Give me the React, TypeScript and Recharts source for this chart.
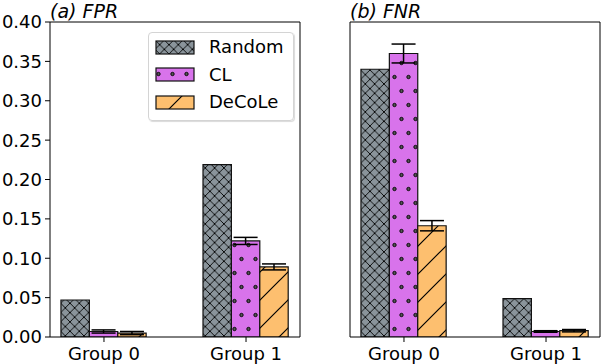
import React from "react";
import {
  BarChart,
  Bar,
  XAxis,
  YAxis,
  ErrorBar,
  ReferenceLine,
} from "recharts";

// group positions on the x axis (0 = Group 0, 1 = Group 1)
const groups = [0, 1];
const yTicks = [0, 0.05, 0.1, 0.15, 0.2, 0.25, 0.3, 0.35, 0.4];

// (a) FPR
const fprRandom = [0.047, 0.219];
const fprCL = [0.007, 0.122];
const fprCLErr = [0.002, 0.0045];
const fprDeCoLe = [0.005, 0.089];
const fprDeCoLeErr = [0.002, 0.0038];

// (b) FNR
const fnrRandom = [0.34, 0.0487];
const fnrCL = [0.36, 0.007];
const fnrCLErr = [0.012, 0.001];
const fnrDeCoLe = [0.1413, 0.008];
const fnrDeCoLeErr = [0.0065, 0.0015];

const series = [
  { key: "random", name: "Random", fill: "url(#hatchRandom)" },
  { key: "cl", name: "CL", fill: "url(#hatchCL)" },
  { key: "decole", name: "DeCoLe", fill: "url(#hatchDeCoLe)" },
];

const fprData = groups.map((g, i) => ({
  x: g,
  random: fprRandom[i],
  cl: fprCL[i],
  clErr: fprCLErr[i],
  decole: fprDeCoLe[i],
  decoleErr: fprDeCoLeErr[i],
}));

const fnrData = groups.map((g, i) => ({
  x: g,
  random: fnrRandom[i],
  cl: fnrCL[i],
  clErr: fnrCLErr[i],
  decole: fnrDeCoLe[i],
  decoleErr: fnrDeCoLeErr[i],
}));

const FONT = "'DejaVu Sans', sans-serif";
const X_DOMAIN: [number, number] = [-0.38, 1.38];

const Patterns = () => (
  <svg width={0} height={0} style={{ position: "absolute" }}>
    <defs>
      <pattern id="hatchRandom" patternUnits="userSpaceOnUse" width={9.33} height={9.33}>
        <rect width={9.33} height={9.33} fill="#8a949b" />
        <path
          d="M-1,-1 L10.33,10.33 M-1,10.33 L10.33,-1"
          stroke="#000"
          strokeWidth={0.9}
        />
      </pattern>
      <pattern id="hatchCL" patternUnits="userSpaceOnUse" width={14} height={28}>
        <rect width={14} height={28} fill="#d873eb" />
        <circle cx={3.5} cy={7} r={1.7} fill="#555" stroke="#000" strokeWidth={0.9} />
        <circle cx={10.5} cy={21} r={1.7} fill="#555" stroke="#000" strokeWidth={0.9} />
      </pattern>
      <pattern id="hatchDeCoLe" patternUnits="userSpaceOnUse" width={28} height={28}>
        <rect width={28} height={28} fill="#fdbf6f" />
        <path
          d="M-7,7 L7,-7 M0,28 L28,0 M21,35 L35,21"
          stroke="#000"
          strokeWidth={1.2}
        />
      </pattern>
    </defs>
  </svg>
);

interface PanelProps {
  data: typeof fprData;
  showLabels: boolean;
  width: number;
}

const Panel: React.FC<PanelProps> = ({ data, showLabels, width }) => (
  <BarChart
    width={width}
    height={364}
    data={data}
    margin={{ top: 22, right: 2, left: 0, bottom: 0 }}
    barGap={0}
    barSize={28.4}
    style={{ fontFamily: FONT }}
  >
    <XAxis
      type="number"
      dataKey="x"
      domain={X_DOMAIN}
      ticks={groups}
      allowDataOverflow
      tickFormatter={(v) => `Group ${v}`}
      height={27}
      tickSize={5}
      tickMargin={5}
      tick={{ fill: "#000", fontSize: 18 }}
      stroke="#000"
    />
    <YAxis
      type="number"
      domain={[0, 0.4]}
      ticks={yTicks}
      allowDataOverflow
      width={50}
      tickSize={5}
      tickMargin={3}
      tick={showLabels ? { fill: "#000", fontSize: 18 } : false}
      tickFormatter={(v) => v.toFixed(2)}
      stroke="#000"
    />
    {/* top and right spines */}
    <ReferenceLine y={0.4} stroke="#000" strokeWidth={1} />
    <ReferenceLine x={X_DOMAIN[1]} stroke="#000" strokeWidth={1} />
    <Bar
      dataKey="random"
      fill={series[0].fill}
      stroke="#111"
      strokeWidth={1.2}
      isAnimationActive={false}
    />
    <Bar
      dataKey="cl"
      fill={series[1].fill}
      stroke="#111"
      strokeWidth={1.2}
      isAnimationActive={false}
    >
      <ErrorBar dataKey="clErr" width={12} stroke="#000" strokeWidth={1.5} direction="y" />
    </Bar>
    <Bar
      dataKey="decole"
      fill={series[2].fill}
      stroke="#111"
      strokeWidth={1.2}
      isAnimationActive={false}
    >
      <ErrorBar dataKey="decoleErr" width={12} stroke="#000" strokeWidth={1.5} direction="y" />
    </Bar>
  </BarChart>
);

const LegendBox = () => (
  <div
    style={{
      position: "absolute",
      left: 148,
      top: 32,
      width: 144,
      height: 87,
      border: "1px solid #d4d4d4",
      borderRadius: 4,
      background: "rgba(255,255,255,0.85)",
      boxShadow: "1px 1px 1px rgba(0,0,0,0.15)",
    }}
  >
    {series.map((s, i) => (
      <div
        key={s.key}
        style={{
          position: "absolute",
          left: 6,
          top: 2 + i * 27.5,
          height: 24,
          display: "flex",
          alignItems: "center",
        }}
      >
        <svg width={40} height={15} style={{ display: "block" }}>
          <rect x={1} y={1} width={38} height={13} fill={s.fill} stroke="#111" strokeWidth={1.2} />
        </svg>
        <span style={{ marginLeft: 14, fontSize: 18, lineHeight: "24px", color: "#000" }}>
          {s.name}
        </span>
      </div>
    ))}
  </div>
);

const titleStyle: React.CSSProperties = {
  position: "absolute",
  top: 0,
  fontSize: 19,
  fontStyle: "italic",
  lineHeight: "normal",
  color: "#000",
  whiteSpace: "nowrap",
};

export default function App() {
  return (
    <div
      style={{
        position: "absolute",
        left: 0,
        top: 0,
        width: 602,
        height: 364,
        background: "#fff",
        fontFamily: FONT,
        overflow: "hidden",
      }}
    >
      <Patterns />
      <div style={{ position: "absolute", left: 0, top: 0 }}>
        <Panel data={fprData} showLabels={true} width={302} />
      </div>
      <div style={{ position: "absolute", left: 300, top: 0 }}>
        <Panel data={fnrData} showLabels={false} width={302} />
      </div>
      <div style={{ ...titleStyle, left: 50 }}>(a) FPR</div>
      <div style={{ ...titleStyle, left: 350 }}>(b) FNR</div>
      <LegendBox />
    </div>
  );
}
